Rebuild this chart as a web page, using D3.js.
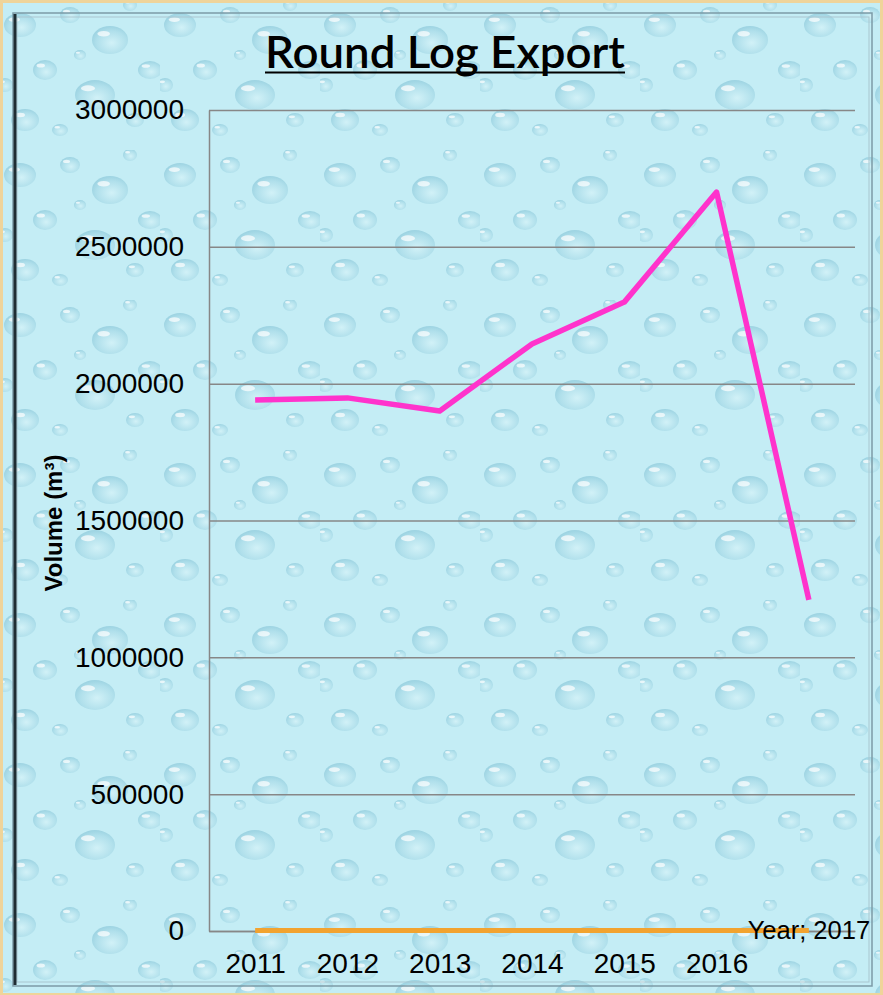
<!DOCTYPE html>
<html>
<head>
<meta charset="utf-8">
<script src="https://cdn.jsdelivr.net/npm/d3@7"></script>
<style>
  body { margin: 0; background: #fff; }
  text { font-family: "Liberation Sans", Arial, sans-serif; }
</style>
</head>
<body>
<div id="canvas"></div>
<script>
// data
const years = ["2011", "2012", "2013", "2014", "2015", "2016", "2017"];
const volume = [1940000, 1948000, 1900000, 2145000, 2298000, 2700000, 1210000];
const yearSeries = [2011, 2012, 2013, 2014, 2015, 2016, 2017];
const yTicks = [0, 500000, 1000000, 1500000, 2000000, 2500000, 3000000];
const xTickLabels = ["2011", "2012", "2013", "2014", "2015", "2016"];

const width = 883;
const height = 995;
const margin = { top: 110, left: 209, bottom: 64, right: 28 };
const iwidth = width - margin.left - margin.right;
const iheight = height - margin.top - margin.bottom;

const svg = d3.select("#canvas").append("svg")
    .attr("width", width)
    .attr("height", height);

// water drop texture
const defs = svg.append("defs");
const grad = defs.append("radialGradient").attr("id", "drop").attr("cx", "55%").attr("cy", "60%").attr("r", "60%");
grad.append("stop").attr("offset", "0%").attr("stop-color", "#d6f3f8");
grad.append("stop").attr("offset", "70%").attr("stop-color", "#a9dbe8");
grad.append("stop").attr("offset", "100%").attr("stop-color", "#8fcadb");

const drops = [
    [20, 25, 16, 12], [70, 15, 10, 8], [110, 40, 18, 14], [45, 70, 12, 10],
    [95, 95, 20, 15], [25, 120, 14, 11], [135, 120, 9, 7], [60, 130, 8, 6],
    [150, 70, 12, 9], [130, 5, 7, 6], [5, 85, 8, 7], [80, 55, 6, 5]
];
const pat = defs.append("pattern").attr("id", "water")
    .attr("patternUnits", "userSpaceOnUse")
    .attr("width", 160).attr("height", 150);
pat.append("rect").attr("width", 160).attr("height", 150).attr("fill", "#c4edf5");
drops.forEach(d => {
    pat.append("ellipse").attr("cx", d[0]).attr("cy", d[1]).attr("rx", d[2]).attr("ry", d[3])
        .attr("fill", "url(#drop)").attr("opacity", 0.75);
    pat.append("ellipse").attr("cx", d[0] - d[2] * 0.35).attr("cy", d[1] - d[3] * 0.45)
        .attr("rx", d[2] * 0.35).attr("ry", d[3] * 0.2)
        .attr("fill", "#ffffff").attr("opacity", 0.7);
});

// frame
svg.append("rect").attr("width", width).attr("height", height).attr("fill", "#efd49a");
svg.append("rect").attr("x", 3).attr("y", 3).attr("width", width - 6).attr("height", height - 5)
    .attr("fill", "url(#water)");
svg.append("rect").attr("x", 13).attr("y", 13).attr("width", 859).attr("height", 973)
    .attr("fill", "none").attr("stroke", "#7c9aa6").attr("stroke-width", 1.5);
svg.append("rect").attr("x", 17).attr("y", 17).attr("width", 852).attr("height", 965)
    .attr("fill", "none").attr("stroke", "#a9c6cf").attr("stroke-width", 1);
svg.append("line").attr("x1", 15).attr("x2", 15).attr("y1", 14).attr("y2", 985)
    .attr("stroke", "#1f2d33").attr("stroke-width", 3);

// title
svg.append("text")
    .attr("x", 445).attr("y", 68)
    .attr("text-anchor", "middle")
    .style("font-family", "Lato, 'Open Sans', sans-serif")
    .style("font-size", "44px")
    .style("font-weight", "600")
    .attr("textLength", 360).attr("lengthAdjust", "spacingAndGlyphs")
    .text("Round Log Export");
svg.append("line").attr("x1", 265).attr("x2", 625).attr("y1", 72.5).attr("y2", 72.5)
    .attr("stroke", "#000").attr("stroke-width", 2);

const g = svg.append("g").attr("transform", `translate(${margin.left},${margin.top})`);

const y = d3.scaleLinear().domain([0, 3000000]).range([iheight, 0]);
const x = d3.scalePoint().domain(years).range([0, iwidth]).padding(0.5);

// y axis with gridlines
const yAxis = g.append("g")
    .call(d3.axisLeft(y).tickValues(yTicks).tickSize(-iwidth).tickSizeOuter(0)
        .tickPadding(25).tickFormat(d3.format("d")));
yAxis.selectAll(".tick line").attr("stroke", "#878787").attr("stroke-width", 1.5);
yAxis.select(".domain").attr("stroke", "#878787").attr("stroke-width", 1.5);
yAxis.selectAll("text").style("font-size", "28px").attr("fill", "#000");

// x axis
const xAxis = g.append("g")
    .attr("transform", `translate(0,${iheight})`)
    .call(d3.axisBottom(x).tickValues(xTickLabels).tickSize(0).tickSizeOuter(0).tickPadding(22));
xAxis.select(".domain").attr("stroke", "#878787").attr("stroke-width", 1.5);
xAxis.selectAll("text").style("font-size", "28px").attr("fill", "#000");

// y axis title
svg.append("text")
    .attr("transform", "translate(62,523) rotate(-90)")
    .attr("text-anchor", "middle")
    .style("font-size", "24px")
    .style("font-weight", "bold")
    .text("Volume (m³)");

// series
const line = d3.line().x(d => x(d.year)).y(d => y(d.v));

g.append("path")
    .datum(years.map((yr, i) => ({ year: yr, v: yearSeries[i] })))
    .attr("fill", "none")
    .attr("stroke", "#f2a330")
    .attr("stroke-width", 5)
    .attr("d", line);

g.append("path")
    .datum(years.map((yr, i) => ({ year: yr, v: volume[i] })))
    .attr("fill", "none")
    .attr("stroke", "#ff33cc")
    .attr("stroke-width", 5.5)
    .attr("stroke-linejoin", "round")
    .attr("d", line);

// data label on last point of the Year series
const last = years.length - 1;
g.append("text")
    .attr("x", x(years[last]))
    .attr("y", y(yearSeries[last]))
    .attr("dy", "0.35em")
    .attr("text-anchor", "middle")
    .style("font-size", "25.5px")
    .text("Year; " + yearSeries[last]);
</script>
</body>
</html>
